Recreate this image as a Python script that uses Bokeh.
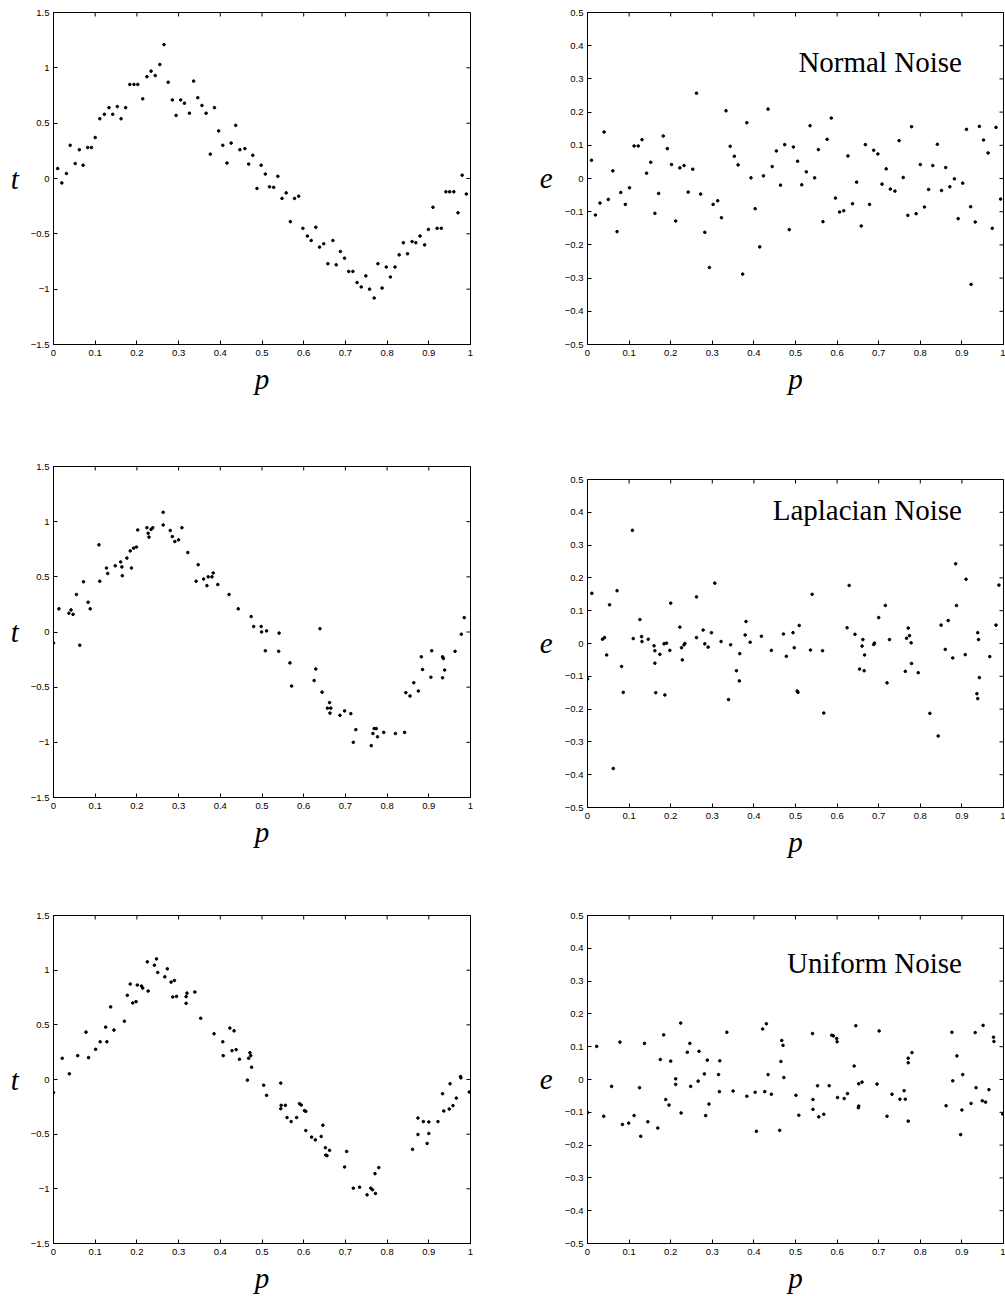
import math
from bokeh.plotting import figure
from bokeh.models import Range1d, FixedTicker, Label, CustomJSTickFormatter
from bokeh.layouts import row, column
from bokeh.embed import file_html
from bokeh.resources import INLINE

# ---------------- tick values / labels ----------------
p_ticks = [0.0, 0.1, 0.2, 0.3, 0.4, 0.5, 0.6, 0.7, 0.8, 0.9, 1.0]
p_tick_labels = ["0", "0.1", "0.2", "0.3", "0.4", "0.5", "0.6", "0.7", "0.8", "0.9", "1"]
t_ticks = [-1.5, -1.0, -0.5, 0.0, 0.5, 1.0, 1.5]
t_tick_labels = ["\u22121.5", "\u22121", "\u22120.5", "0", "0.5", "1", "1.5"]
e_ticks = [-0.5, -0.4, -0.3, -0.2, -0.1, 0.0, 0.1, 0.2, 0.3, 0.4, 0.5]
e_tick_labels = ["\u22120.5", "\u22120.4", "\u22120.3", "\u22120.2", "\u22120.1", "0",
                 "0.1", "0.2", "0.3", "0.4", "0.5"]

titles = ["Normal Noise", "Laplacian Noise", "Uniform Noise"]

# ---------------- Normal noise: targets ----------------
normal_p = [0.01, 0.02, 0.031, 0.04, 0.052, 0.062, 0.071, 0.082, 0.091, 0.10,
            0.111, 0.122, 0.133, 0.142, 0.153, 0.162, 0.173, 0.183, 0.193, 0.202,
            0.214, 0.224, 0.234, 0.244, 0.255, 0.265, 0.275, 0.285, 0.294, 0.305,
            0.314, 0.326, 0.336, 0.346, 0.356, 0.366, 0.376, 0.386, 0.396, 0.406,
            0.416, 0.426, 0.437, 0.447, 0.459, 0.468, 0.478, 0.488, 0.498, 0.508,
            0.518, 0.528, 0.538, 0.548, 0.558, 0.568, 0.578, 0.588, 0.598, 0.609,
            0.618, 0.629, 0.638, 0.648, 0.658, 0.67, 0.678, 0.688, 0.698, 0.708,
            0.718, 0.728, 0.738, 0.749, 0.758, 0.769, 0.778, 0.788, 0.798, 0.808,
            0.819, 0.829, 0.839, 0.849, 0.86, 0.869, 0.879, 0.89, 0.899, 0.91,
            0.92, 0.93, 0.941, 0.95, 0.96, 0.97, 0.98, 0.99]
normal_t = [0.09, -0.04, 0.045, 0.30, 0.135, 0.26, 0.12, 0.28, 0.28, 0.37,
            0.54, 0.58, 0.64, 0.58, 0.65, 0.54, 0.64, 0.85, 0.85, 0.85,
            0.72, 0.92, 0.97, 0.93, 1.03, 1.21, 0.87, 0.71, 0.57, 0.71,
            0.68, 0.59, 0.88, 0.73, 0.66, 0.59, 0.22, 0.64, 0.43, 0.30,
            0.14, 0.32, 0.48, 0.26, 0.27, 0.13, 0.21, -0.09, 0.12, 0.04,
            -0.075, -0.08, 0.02, -0.18, -0.13, -0.39, -0.18, -0.16, -0.45, -0.52,
            -0.56, -0.44, -0.62, -0.59, -0.77, -0.56, -0.78, -0.66, -0.72, -0.84,
            -0.84, -0.94, -0.98, -0.88, -1.0, -1.08, -0.77, -0.99, -0.80, -0.89,
            -0.80, -0.69, -0.58, -0.68, -0.57, -0.58, -0.52, -0.60, -0.46, -0.26,
            -0.45, -0.45, -0.12, -0.12, -0.12, -0.31, 0.03, -0.14]

# ---------------- Normal noise: errors ----------------
normal_ep = [0.0096, 0.019, 0.03, 0.04, 0.05, 0.061, 0.071, 0.08, 0.091, 0.101,
             0.112, 0.122, 0.131, 0.142, 0.152, 0.162, 0.171, 0.182, 0.192, 0.202,
             0.212, 0.222, 0.232, 0.242, 0.253, 0.262, 0.272, 0.282, 0.293, 0.302,
             0.313, 0.322, 0.333, 0.343, 0.353, 0.362, 0.373, 0.383, 0.393, 0.403,
             0.414, 0.423, 0.434, 0.444, 0.454, 0.464, 0.474, 0.485, 0.495, 0.505,
             0.515, 0.526, 0.535, 0.546, 0.555, 0.566, 0.576, 0.586, 0.596, 0.606,
             0.616, 0.626, 0.637, 0.647, 0.658, 0.668, 0.678, 0.688, 0.698, 0.708,
             0.718, 0.728, 0.739, 0.749, 0.759, 0.77, 0.779, 0.79, 0.80, 0.81,
             0.82, 0.83, 0.841, 0.851, 0.861, 0.871, 0.882, 0.891, 0.902, 0.911,
             0.921, 0.922, 0.932, 0.942, 0.952, 0.963, 0.973, 0.982, 0.993]
normal_e = [0.055, -0.11, -0.074, 0.14, -0.063, 0.023, -0.16, -0.042, -0.078, -0.028,
            0.098, 0.098, 0.117, 0.016, 0.049, -0.105, -0.045, 0.128, 0.09, 0.042,
            -0.128, 0.032, 0.039, -0.041, 0.028, 0.257, -0.047, -0.162, -0.268, -0.078,
            -0.067, -0.118, 0.204, 0.097, 0.067, 0.041, -0.288, 0.168, 0.002, -0.091,
            -0.206, 0.008, 0.209, 0.036, 0.083, -0.02, 0.102, -0.154, 0.095, 0.052,
            -0.019, 0.02, 0.159, 0.002, 0.087, -0.13, 0.118, 0.182, -0.059, -0.101,
            -0.097, 0.068, -0.076, -0.011, -0.143, 0.102, -0.078, 0.085, 0.074, -0.017,
            0.029, -0.032, -0.038, 0.114, 0.003, -0.111, 0.156, -0.106, 0.042, -0.086,
            -0.033, 0.039, 0.103, -0.036, 0.033, -0.025, -0.001, -0.121, -0.014, 0.148,
            -0.085, -0.319, -0.131, 0.157, 0.116, 0.077, -0.15, 0.154, -0.062]

# ---------------- Laplacian noise: targets ----------------
laplace_p = [0.0, 0.013, 0.037, 0.042, 0.047, 0.055, 0.063, 0.072, 0.083, 0.088,
             0.109, 0.111, 0.127, 0.13, 0.148, 0.161, 0.164, 0.165, 0.176, 0.184,
             0.187, 0.192, 0.199, 0.202, 0.224, 0.227, 0.229, 0.234, 0.238, 0.263,
             0.263, 0.28, 0.285, 0.291, 0.30, 0.308, 0.322, 0.342, 0.347, 0.36,
             0.368, 0.371, 0.38, 0.383, 0.394, 0.421, 0.443, 0.474, 0.48, 0.498,
             0.499, 0.511, 0.508, 0.541, 0.54, 0.567, 0.571, 0.625, 0.629, 0.639,
             0.644, 0.657, 0.662, 0.665, 0.663, 0.687, 0.698, 0.713, 0.719, 0.725,
             0.762, 0.766, 0.769, 0.774, 0.777, 0.792, 0.82, 0.842, 0.845, 0.855,
             0.864, 0.875, 0.882, 0.885, 0.905, 0.907, 0.933, 0.935, 0.933, 0.938,
             0.963, 0.978, 0.985]
laplace_t = [-0.10, 0.21, 0.17, 0.20, 0.16, 0.34, -0.12, 0.455, 0.27, 0.21,
             0.79, 0.46, 0.58, 0.53, 0.60, 0.635, 0.59, 0.51, 0.67, 0.735,
             0.58, 0.76, 0.77, 0.925, 0.945, 0.895, 0.86, 0.93, 0.945, 1.085,
             0.97, 0.92, 0.865, 0.82, 0.835, 0.945, 0.72, 0.46, 0.61, 0.48,
             0.42, 0.50, 0.50, 0.535, 0.43, 0.34, 0.21, 0.14, 0.05, 0.05,
             0.0, 0.01, -0.17, -0.01, -0.175, -0.28, -0.49, -0.44, -0.335, 0.03,
             -0.545, -0.69, -0.64, -0.69, -0.735, -0.755, -0.715, -0.74, -1.0, -0.885,
             -1.03, -0.92, -0.875, -0.875, -0.95, -0.91, -0.92, -0.91, -0.55, -0.58,
             -0.46, -0.535, -0.225, -0.34, -0.41, -0.17, -0.225, -0.24, -0.415, -0.345,
             -0.175, -0.02, 0.13]

# ---------------- Laplacian noise: errors ----------------
laplace_ep = [0.0, 0.0104, 0.036, 0.041, 0.046, 0.053, 0.062, 0.071, 0.082, 0.086,
              0.108, 0.11, 0.126, 0.13, 0.131, 0.146, 0.16, 0.162, 0.162, 0.164,
              0.174, 0.184, 0.186, 0.19, 0.198, 0.20, 0.222, 0.226, 0.228, 0.232,
              0.234, 0.262, 0.262, 0.278, 0.282, 0.29, 0.298, 0.306, 0.321, 0.339,
              0.344, 0.358, 0.365, 0.366, 0.379, 0.381, 0.391, 0.418, 0.442, 0.471,
              0.478, 0.494, 0.497, 0.504, 0.506, 0.509, 0.536, 0.54, 0.565, 0.568,
              0.624, 0.629, 0.643, 0.654, 0.66, 0.662, 0.665, 0.666, 0.688, 0.69,
              0.70, 0.716, 0.72, 0.726, 0.764, 0.767, 0.771, 0.774, 0.778, 0.779,
              0.795, 0.823, 0.843, 0.85, 0.86, 0.867, 0.878, 0.885, 0.887, 0.908,
              0.91, 0.936, 0.938, 0.938, 0.94, 0.942, 0.967, 0.982, 0.989]
laplace_e = [-0.108, 0.153, 0.013, 0.018, -0.035, 0.118, -0.381, 0.161, -0.07, -0.149,
             0.345, 0.015, 0.073, 0.021, 0.006, 0.013, -0.007, -0.022, -0.06, -0.15,
             -0.033, -0.001, -0.157, 0.001, -0.021, 0.123, 0.05, -0.013, -0.05, -0.004,
             0.0, 0.142, 0.018, 0.041, -0.001, -0.011, 0.033, 0.184, 0.006, -0.171,
             -0.004, -0.083, -0.114, -0.031, 0.026, 0.067, 0.004, 0.022, -0.021, 0.029,
             -0.039, 0.033, -0.013, -0.145, -0.149, 0.055, -0.02, 0.15, -0.022, -0.212,
             0.048, 0.177, 0.028, -0.078, -0.008, 0.012, -0.083, -0.035, -0.003, 0.001,
             0.079, 0.116, -0.12, 0.012, -0.085, 0.016, 0.047, 0.024, 0.002, -0.061,
             -0.089, -0.213, -0.282, 0.056, -0.018, 0.07, -0.044, 0.243, 0.116, -0.034,
             0.196, -0.153, -0.168, 0.033, 0.012, -0.104, -0.04, 0.056, 0.178]

# ---------------- Uniform noise: targets ----------------
uniform_p = [0.0, 0.021, 0.038, 0.058, 0.078, 0.084, 0.101, 0.112, 0.125, 0.128,
             0.137, 0.145, 0.17, 0.177, 0.184, 0.19, 0.198, 0.201, 0.211, 0.214,
             0.225, 0.227, 0.242, 0.247, 0.25, 0.267, 0.273, 0.282, 0.29, 0.286,
             0.295, 0.318, 0.32, 0.318, 0.339, 0.353, 0.385, 0.406, 0.407, 0.423,
             0.428, 0.433, 0.438, 0.446, 0.465, 0.468, 0.471, 0.473, 0.475, 0.504,
             0.511, 0.545, 0.545, 0.546, 0.556, 0.56, 0.57, 0.583, 0.59, 0.594,
             0.602, 0.605, 0.605, 0.619, 0.628, 0.642, 0.646, 0.652, 0.653, 0.656,
             0.662, 0.698, 0.703, 0.719, 0.734, 0.752, 0.761, 0.765, 0.772, 0.771,
             0.78, 0.861, 0.874, 0.874, 0.887, 0.896, 0.90, 0.90, 0.922, 0.933,
             0.936, 0.949, 0.951, 0.958, 0.966, 0.976, 0.977, 0.997]
uniform_t = [-0.12, 0.194, 0.052, 0.218, 0.433, 0.20, 0.276, 0.345, 0.479, 0.345,
             0.664, 0.452, 0.533, 0.77, 0.873, 0.70, 0.712, 0.864, 0.855, 0.836,
             1.076, 0.809, 1.045, 1.103, 0.979, 0.939, 1.012, 0.891, 0.906, 0.755,
             0.76, 0.758, 0.79, 0.697, 0.80, 0.56, 0.418, 0.345, 0.218, 0.47,
             0.264, 0.445, 0.273, 0.185, -0.006, 0.194, 0.245, 0.218, 0.112, -0.052,
             -0.145, -0.033, -0.267, -0.236, -0.236, -0.348, -0.385, -0.348, -0.221, -0.233,
             -0.285, -0.291, -0.467, -0.527, -0.552, -0.521, -0.418, -0.624, -0.691, -0.697,
             -0.648, -0.80, -0.658, -0.994, -0.985, -1.055, -0.994, -1.009, -1.042, -0.861,
             -0.806, -0.639, -0.352, -0.503, -0.385, -0.585, -0.494, -0.388, -0.385, -0.13,
             -0.288, -0.27, -0.039, -0.239, -0.17, 0.027, 0.015, -0.115]

# ---------------- Uniform noise: errors ----------------
uniform_ep = [0.0, 0.022, 0.039, 0.058, 0.078, 0.084, 0.099, 0.112, 0.125, 0.128,
              0.137, 0.145, 0.169, 0.175, 0.183, 0.188, 0.196, 0.20, 0.212, 0.212,
              0.224, 0.225, 0.24, 0.246, 0.248, 0.266, 0.268, 0.281, 0.284, 0.288,
              0.292, 0.315, 0.317, 0.318, 0.335, 0.35, 0.383, 0.403, 0.406, 0.421,
              0.426, 0.43, 0.434, 0.442, 0.462, 0.465, 0.467, 0.47, 0.472, 0.501,
              0.508, 0.541, 0.542, 0.542, 0.553, 0.556, 0.568, 0.581, 0.587, 0.591,
              0.599, 0.60, 0.601, 0.617, 0.625, 0.641, 0.645, 0.651, 0.652, 0.652,
              0.66, 0.696, 0.701, 0.72, 0.732, 0.751, 0.761, 0.764, 0.771, 0.771,
              0.771, 0.78, 0.862, 0.876, 0.878, 0.888, 0.897, 0.90, 0.902, 0.922,
              0.932, 0.934, 0.949, 0.951, 0.957, 0.965, 0.976, 0.977, 0.998]
uniform_e = [-0.101, 0.101, -0.112, -0.021, 0.114, -0.137, -0.133, -0.11, -0.025, -0.173,
             0.11, -0.129, -0.148, 0.061, 0.136, -0.061, -0.078, 0.056, 0.002, -0.015,
             0.172, -0.102, 0.083, 0.11, -0.021, -0.005, 0.086, 0.017, -0.11, 0.059,
             -0.075, 0.015, -0.037, 0.057, 0.144, -0.035, -0.051, -0.039, -0.158, 0.154,
             -0.037, 0.17, 0.015, -0.045, -0.155, 0.055, 0.119, 0.104, 0.006, -0.048,
             -0.109, 0.14, -0.061, -0.091, -0.019, -0.114, -0.106, -0.019, 0.135, 0.133,
             0.125, 0.115, -0.055, -0.058, -0.043, 0.041, 0.164, -0.086, -0.081, -0.013,
             -0.008, -0.014, 0.148, -0.112, -0.045, -0.06, -0.034, -0.06, 0.065, 0.051,
             -0.127, 0.082, -0.08, 0.144, -0.004, 0.072, -0.168, -0.093, 0.015, -0.073,
             0.143, -0.025, -0.065, 0.165, -0.069, -0.031, 0.129, 0.116, -0.105]


def label_formatter(tvals, tlabels):
    return CustomJSTickFormatter(
        args=dict(tvals=tvals, tlabels=tlabels),
        code="""
        for (let i = 0; i < tvals.length; i++) {
            if (Math.abs(tvals[i] - tick) < 1e-9) { return tlabels[i]; }
        }
        return '';
        """)


def style_axis(ax, standoff):
    ax.major_tick_in = 4
    ax.major_tick_out = 0
    ax.minor_tick_in = 0
    ax.minor_tick_out = 0
    ax.axis_line_color = "black"
    ax.major_tick_line_color = "black"
    ax.major_label_text_font = "Liberation Sans"
    ax.major_label_text_font_size = "9.5px"
    ax.major_label_text_color = "black"
    ax.major_label_standoff = standoff


def make_panel(px, py, yr, yt, ylabels, ylab, width, height, bl, br, bt, bb,
               title=None, title_pos=None):
    f = figure(width=width, height=height,
               x_range=Range1d(0, 1), y_range=Range1d(*yr),
               output_backend="svg", toolbar_location=None,
               min_border_left=bl, min_border_right=br,
               min_border_top=bt, min_border_bottom=bb)
    f.xgrid.visible = False
    f.ygrid.visible = False
    f.outline_line_color = "black"
    f.outline_line_width = 1
    f.background_fill_color = "white"
    f.border_fill_color = "white"

    f.xaxis.ticker = FixedTicker(ticks=p_ticks)
    f.xaxis.formatter = label_formatter(p_ticks, p_tick_labels)
    f.yaxis.ticker = FixedTicker(ticks=yt)
    f.yaxis.formatter = label_formatter(yt, ylabels)
    style_axis(f.xaxis[0], 5)
    style_axis(f.yaxis[0], 4)

    f.xaxis.axis_label = "p"
    f.yaxis.axis_label = ylab
    for ax in [f.xaxis[0], f.yaxis[0]]:
        ax.axis_label_text_font = "Liberation Serif"
        ax.axis_label_text_font_style = "italic"
        ax.axis_label_text_font_size = "29px"
        ax.axis_label_text_color = "black"
    f.xaxis.axis_label_standoff = 4
    f.yaxis.axis_label_standoff = 9
    f.yaxis.axis_label_orientation = "horizontal"

    # inward tick marks mirrored on the top and right edges of the box
    f.scatter(p_ticks, [yr[1]] * len(p_ticks), marker="dash", angle=math.pi / 2,
              size=8, line_color="black", line_width=1)
    f.scatter([1.0] * len(yt), yt, marker="dash", size=8,
              line_color="black", line_width=1)

    f.scatter(px, py, size=2.6, marker="circle", color="black")

    if title is not None:
        f.add_layout(Label(x=title_pos[0], y=title_pos[1], text=title,
                           text_align="right", text_baseline="alphabetic",
                           text_font="Liberation Serif", text_font_size="29px",
                           text_color="black"))
    return f


L1 = make_panel(normal_p, normal_t, (-1.5, 1.5), t_ticks, t_tick_labels, "t",
                520, 404, 53, 50, 12, 60)
L2 = make_panel(laplace_p, laplace_t, (-1.5, 1.5), t_ticks, t_tick_labels, "t",
                520, 451, 53, 50, 62, 58)
L3 = make_panel(uniform_p, uniform_t, (-1.5, 1.5), t_ticks, t_tick_labels, "t",
                520, 441, 53, 50, 60, 51)

R1 = make_panel(normal_ep, normal_e, (-0.5, 0.5), e_ticks, e_tick_labels, "e",
                485, 404, 67, 2, 12, 60, titles[0], (0.90, 0.35))
R2 = make_panel(laplace_ep, laplace_e, (-0.5, 0.5), e_ticks, e_tick_labels, "e",
                485, 463, 67, 2, 75, 60, titles[1], (0.90, 0.408))
R3 = make_panel(uniform_ep, uniform_e, (-0.5, 0.5), e_ticks, e_tick_labels, "e",
                485, 429, 67, 2, 48, 51, titles[2], (0.90, 0.355))

layout = row(column(L1, L2, L3, spacing=0), column(R1, R2, R3, spacing=0), spacing=0)

open("out.html", "w").write(file_html(layout, INLINE))
